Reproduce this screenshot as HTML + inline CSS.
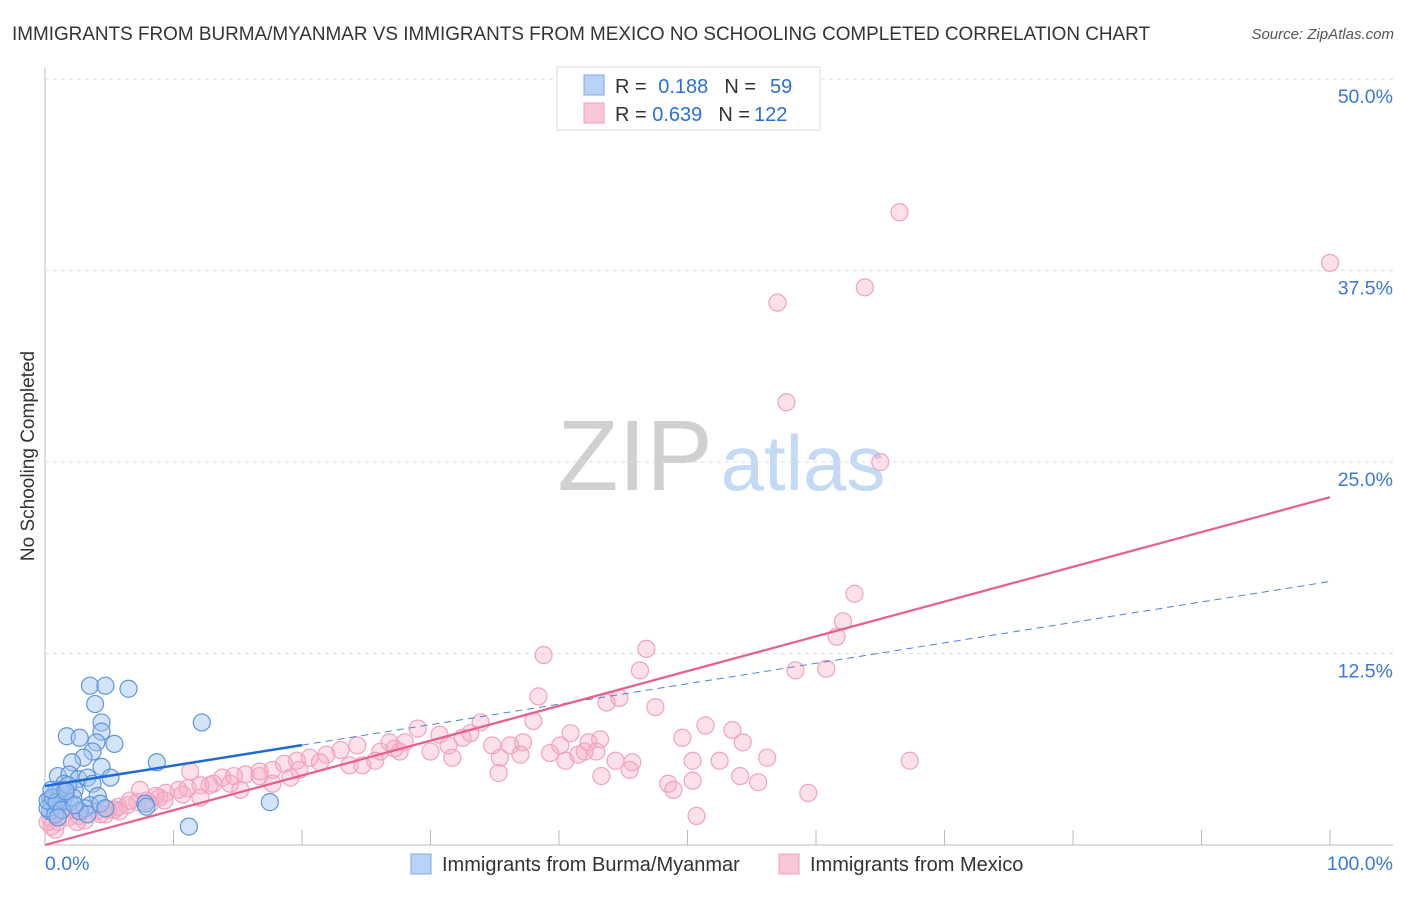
<!DOCTYPE html>
<html><head><meta charset="utf-8"><style>
body{margin:0;background:#fff;font-family:"Liberation Sans",sans-serif}
svg text{font-family:"Liberation Sans",sans-serif}
</style></head><body>
<svg id="c" width="1406" height="892" viewBox="0 0 1406 892">
<text x="12" y="40" font-size="19" fill="#333" textLength="1138" lengthAdjust="spacingAndGlyphs">IMMIGRANTS FROM BURMA/MYANMAR VS IMMIGRANTS FROM MEXICO NO SCHOOLING COMPLETED CORRELATION CHART</text>
<text x="1394" y="39" font-size="15" fill="#555" font-style="italic" text-anchor="end">Source: ZipAtlas.com</text>
<text x="34" y="456" font-size="19" fill="#333" text-anchor="middle" transform="rotate(-90 34 456)">No Schooling Completed</text>
<g>
<text x="635" y="490" font-size="100" fill="#d0d0d0" font-family="Liberation Serif,serif" text-anchor="middle">ZIP</text>
<text x="803" y="490" font-size="78" fill="#c4d9f3" text-anchor="middle">atlas</text></g>
<g id="grid"></g><g id="pts"></g><g id="lines"></g>
<g>
<rect x="557" y="67" width="263" height="63" fill="#fff" stroke="#ddd"/>
<rect x="584" y="75" width="20" height="20" fill="#b8d3f5" stroke="#7fa9e6"/>
<rect x="584" y="103" width="20" height="20" fill="#f9c6d6" stroke="#f0a2b9"/>
<text x="615" y="93" font-size="20" fill="#333">R = <tspan fill="#2f6fd0" dx="6">0.188</tspan><tspan dx="16" fill="#333">N =</tspan><tspan dx="14" fill="#2f6fd0">59</tspan></text>
<text x="615" y="121" font-size="20" fill="#333">R = <tspan fill="#2f6fd0">0.639</tspan><tspan dx="16" fill="#333">N =</tspan><tspan dx="4" fill="#2f6fd0">122</tspan></text>
</g>
<g>
<rect x="411" y="854" width="20" height="20" fill="#b8d3f5" stroke="#7fa9e6"/>
<text x="442" y="871" font-size="20" fill="#333">Immigrants from Burma/Myanmar</text>
<rect x="779" y="854" width="20" height="20" fill="#f9c6d6" stroke="#f0a2b9"/>
<text x="810" y="871" font-size="20" fill="#333">Immigrants from Mexico</text>
</g>
</svg>
<script>
const yTicks=[12.5,25,37.5,50];
const yTickLabels=["12.5%","25.0%","37.5%","50.0%"];
const xTickVals=[10,20,30,40,50,60,70,80,90,100];
const blueX=[3.5,4.7,6.5,3.9,4.4,12.2,1.7,2.7,4.4,5.4,4.0,3.7,3.0,2.1,8.7,4.4,1.0,1.9,2.6,3.3,5.1,1.5,3.7,2.3,0.8,1.2,4.1,0.4,0.5,1.0,1.4,1.9,3.5,3.1,7.8,7.9,17.5,11.2,0.4,0.2,0.8,1.6,2.2,2.7,3.3,1.2,1.8,4.3,4.7,0.2,0.6,0.9,1.3,2.3,0.5,1.6,1.0];
const blueY=[10.4,10.4,10.2,9.2,8.0,8.0,7.1,7.0,7.4,6.6,6.7,6.1,5.7,5.4,5.4,5.1,4.5,4.6,4.3,4.4,4.4,4.0,4.0,3.6,3.4,3.1,3.2,3.0,2.7,2.6,2.9,2.8,2.6,2.4,2.7,2.5,2.8,1.2,2.2,2.4,2.0,3.3,3.1,2.2,2.0,3.6,3.9,2.7,2.4,2.9,3.1,2.8,2.3,2.6,3.6,3.5,1.8];
const pinkX=[66.5,100,57.0,63.8,57.7,65.0,63.0,62.1,61.6,46.8,38.8,46.3,58.4,60.8,38.4,43.7,44.7,47.5,38.0,33.9,29.0,51.4,53.5,40.9,49.6,54.3,42.3,40.1,34.8,37.2,32.5,31.4,30.7,28.0,27.2,26.1,24.3,23.0,21.9,20.6,19.6,18.6,17.7,16.7,15.6,14.7,13.8,13.1,12.1,11.1,10.4,9.4,8.6,7.9,7.2,6.4,5.7,4.9,4.0,3.3,2.6,1.8,1.0,0.5,0.4,1.3,2.1,3.1,4.3,5.4,6.6,8.2,8.9,11.3,12.8,14.4,16.7,19.1,19.8,21.4,23.7,25.7,27.6,30.0,31.7,33.1,35.4,36.2,39.3,40.5,41.5,42.9,44.4,45.7,43.3,45.5,50.4,52.5,56.2,54.1,50.4,48.5,48.9,55.5,59.4,67.3,50.7,35.3,37.0,43.2,42.0,26.8,24.7,17.7,10.7,7.4,4.7,2.5,0.8,0.2,5.8,9.3,12.1,15.2];
const pinkY=[41.3,38.0,35.4,36.4,28.9,25.0,16.4,14.6,13.6,12.8,12.4,11.4,11.4,11.5,9.7,9.3,9.6,9.0,8.1,8.0,7.6,7.8,7.5,7.3,7.0,6.7,6.7,6.5,6.5,6.7,7.0,6.5,7.2,6.7,6.3,6.1,6.5,6.2,5.9,5.7,5.5,5.3,4.9,4.8,4.6,4.5,4.4,4.0,3.9,3.7,3.6,3.4,3.2,2.9,2.8,2.6,2.5,2.3,2.2,2.0,1.9,1.8,1.5,1.2,1.8,2.2,2.3,1.6,2.0,2.3,2.9,2.7,3.1,4.8,3.9,4.0,4.5,4.4,4.9,5.4,5.2,5.5,6.1,6.1,5.7,7.3,5.7,6.5,6.0,5.5,5.9,6.1,5.5,5.4,4.5,4.9,5.5,5.5,5.7,4.5,4.2,4.0,3.6,4.1,3.4,5.5,1.9,4.7,5.9,6.9,6.1,6.7,5.2,4.0,3.3,3.6,2.0,1.5,1.0,1.5,2.2,2.9,3.1,3.6];
const blueTrend=[3.85,17.2];
const pinkTrend=[0,22.7];
const X=v=>45+v*12.85, Y=v=>845-v*15.32;
const NS="http://www.w3.org/2000/svg";
function mk(t,a,p){const e=document.createElementNS(NS,t);for(const k in a)e.setAttribute(k,a[k]);p.appendChild(e);return e;}
const grid=document.getElementById('grid');
mk('line',{x1:45,y1:68,x2:45,y2:845,stroke:'#bbb'},grid);
mk('line',{x1:45,y1:845,x2:1393,y2:845,stroke:'#bbb'},grid);
yTicks.forEach((v,i)=>{
 const l=mk('line',{x1:45,y1:Y(v),x2:1393,y2:Y(v),stroke:'#ddd','stroke-dasharray':'4,4'},grid);
 
 
 const t=mk('text',{x:1393,y:Y(v)+24,'font-size':19.5,fill:'#3b78d8','text-anchor':'end'},grid);t.textContent=yTickLabels[i];
 
 
});
xTickVals.forEach(v=>{const l=mk('line',{x1:X(v),y1:830,x2:X(v),y2:845,stroke:'#bbb'},grid);
 
 });
let t0=mk('text',{x:45,y:870,'font-size':19.5,fill:'#3b78d8'},grid);t0.textContent='0.0%';


let t1=mk('text',{x:1393,y:870,'font-size':19.5,fill:'#3b78d8','text-anchor':'end'},grid);t1.textContent='100.0%';


const pts=document.getElementById('pts');
pinkX.forEach((x,i)=>{const c=mk('circle',{cx:X(x),cy:Y(pinkY[i]),r:8.5,fill:'rgba(246,170,196,0.35)',stroke:'#f1a3bb','stroke-width':1.2},pts);
 
 });
blueX.forEach((x,i)=>{const c=mk('circle',{cx:X(x),cy:Y(blueY[i]),r:8.5,fill:'rgba(160,196,240,0.45)',stroke:'#5f95dd','stroke-width':1.2},pts);
 
 });
const L=document.getElementById('lines');
const bAt=v=>blueTrend[0]+(blueTrend[1]-blueTrend[0])*v/100;
let a=mk('line',{x1:X(20),y1:Y(bAt(20)),x2:X(100),y2:Y(bAt(100)),stroke:'#4a84d8','stroke-width':1,'stroke-dasharray':'7,5'},L);


let b=mk('line',{x1:X(0),y1:Y(bAt(0)),x2:X(20),y2:Y(bAt(20)),stroke:'#1f6ad6','stroke-width':2.5},L);


let p=mk('line',{x1:X(0),y1:Y(pinkTrend[0]),x2:X(100),y2:Y(pinkTrend[1]),stroke:'#e8608a','stroke-width':2.2},L);


</script>
</body></html>
